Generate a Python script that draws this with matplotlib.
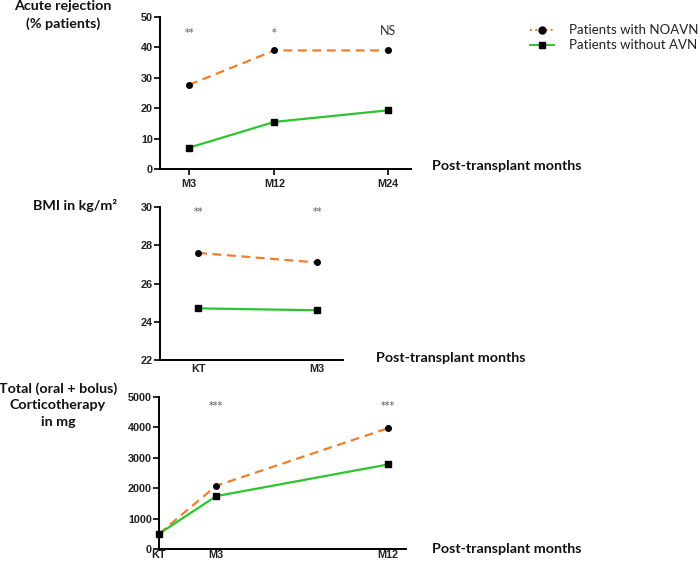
import matplotlib.pyplot as plt
from matplotlib.lines import Line2D

# data
rej_months = [3, 12, 24]
rej_labels = ['M3', 'M12', 'M24']
rej_noavn = [27.7, 39, 39]
rej_without = [7, 15.5, 19.3]
rej_signif = ['**', '*', 'NS']

bmi_months = [0, 3]
bmi_labels = ['KT', 'M3']
bmi_noavn = [27.6, 27.1]
bmi_without = [24.7, 24.6]
bmi_signif = ['**', '**']

cort_months = [0, 3, 12]
cort_labels = ['KT', 'M3', 'M12']
cort_noavn = [500, 2080, 3970]
cort_without = [500, 1740, 2780]
cort_signif = ['', '***', '***']

series_names = ['Patients with NOAVN', 'Patients without AVN']

orange = '#F07D2E'
green = '#2DC52D'
W, H = 700, 564


def fx(px):
    return px / W


def fy(py):
    return 1 - py / H


fig = plt.figure(figsize=(7, 5.64), dpi=100)


def make_axes(left, top, right, bottom):
    return fig.add_axes([fx(left), fy(bottom), fx(right - left), (bottom - top) / H])


def style(ax, xticks=True):
    for s in ['top', 'right']:
        ax.spines[s].set_visible(False)
    for s in ['left', 'bottom']:
        ax.spines[s].set_linewidth(1.4)
    ax.tick_params(axis='y', length=4, width=1.2, labelsize=7.8, pad=1)
    ax.tick_params(axis='x', length=4 if xticks else 0, width=1.2, labelsize=7.8, pad=3)
    for lab in ax.get_xticklabels() + ax.get_yticklabels():
        lab.set_fontweight('bold')
        lab.set_family('Liberation Sans')
        lab.set_color('#222222')


def draw(ax, x, a, b):
    ax.plot(x, a, color=orange, ls='--', lw=1.6, dashes=(4, 2.5), marker='o', ms=4,
            mfc='black', mec='black', zorder=3, clip_on=False)
    ax.plot(x, b, color=green, ls='-', lw=1.6, marker='s', ms=4.3, mfc='black', mec='black',
            zorder=3, clip_on=False)


# panel 1: acute rejection
ax1 = make_axes(160, 17, 411, 169)
draw(ax1, rej_months, rej_noavn, rej_without)
ax1.set_xlim(-0.06, 26.4)
ax1.set_ylim(0, 50)
ax1.set_yticks([0, 10, 20, 30, 40, 50])
ax1.set_xticks(rej_months)
ax1.set_xticklabels(rej_labels)
style(ax1)
for m, s in zip(rej_months, rej_signif):
    if s == 'NS':
        ax1.text(m, 45.3, s, ha='center', va='center', fontsize=9, color='#333333',
                 family='Lato')
    else:
        ax1.text(m, 44.6, s, ha='center', va='center', fontsize=7, color='#555555')

# panel 2: BMI
ax2 = make_axes(160, 207, 343, 360)
draw(ax2, bmi_months, bmi_noavn, bmi_without)
ax2.set_xlim(-0.96, 3.65)
ax2.set_ylim(22, 30)
ax2.set_yticks([22, 24, 26, 28, 30])
ax2.set_xticks(bmi_months)
ax2.set_xticklabels(bmi_labels)
style(ax2, xticks=False)
for m, s in zip(bmi_months, bmi_signif):
    ax2.text(m, 29.75, s, ha='center', va='center', fontsize=7, color='#555555')

# panel 3: corticotherapy
ax3 = make_axes(159, 397, 406, 549)
draw(ax3, cort_months, cort_noavn, cort_without)
ax3.set_xlim(0, 12.95)
ax3.set_ylim(0, 5000)
ax3.set_yticks([0, 1000, 2000, 3000, 4000, 5000])
ax3.set_xticks(cort_months)
ax3.set_xticklabels(cort_labels)
style(ax3, xticks=False)
ax3.tick_params(axis='x', pad=1)
for m, s in zip(cort_months, cort_signif):
    if s:
        ax3.text(m, 4720, s, ha='center', va='center', fontsize=7, color='#555555')

# titles and axis labels
tf = dict(family='Lato', fontweight='bold', fontsize=10.3, color='#111111')
fig.text(fx(63), fy(15), 'Acute rejection\n(% patients)', ha='center', va='center',
         linespacing=1.45, **tf)
fig.text(fx(75), fy(206), 'BMI in kg/m²', ha='center', va='center', **tf)
fig.text(fx(58), fy(405), 'Total (oral + bolus)\nCorticotherapy\nin mg', ha='center',
         va='center', linespacing=1.45, **tf)
for yy, xx in [(166, 432), (358, 376), (549, 432)]:
    fig.text(fx(xx), fy(yy), 'Post-transplant months', ha='left', va='center', **tf)

# legend drawn by hand in figure coordinates
leg_styles = [
    dict(color=orange, ls=':', marker='o', ms=5),
    dict(color=green, ls='-', marker='s', ms=5),
]
for i, (name, st) in enumerate(zip(series_names, leg_styles)):
    yy = fy(30 + 15 * i)
    fig.add_artist(Line2D([fx(530), fx(554)], [yy, yy], color=st['color'], ls=st['ls'],
                          lw=1.4, transform=fig.transFigure))
    fig.add_artist(Line2D([fx(542)], [yy], marker=st['marker'], ms=st['ms'], mfc='black',
                          mec='black', ls='none', transform=fig.transFigure))
    fig.text(fx(569), yy, name, ha='left', va='center', family='Lato', fontsize=9.5,
             color='#222222')

fig.savefig('out.png', dpi=100)
